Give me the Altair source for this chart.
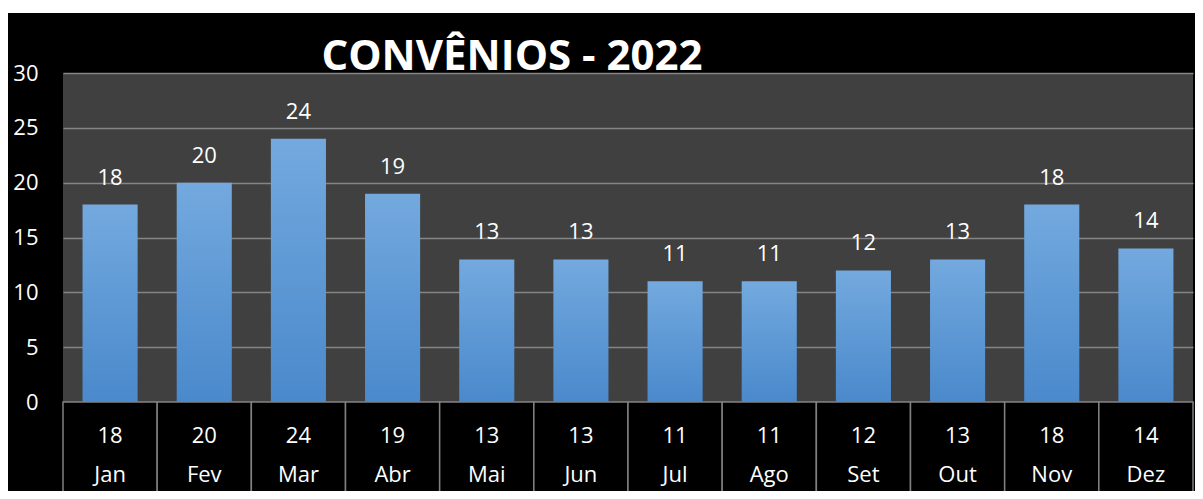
import altair as alt
import pandas as pd

months = ["Jan", "Fev", "Mar", "Abr", "Mai", "Jun", "Jul", "Ago", "Set", "Out", "Nov", "Dez"]
values = [18, 20, 24, 19, 13, 13, 11, 11, 12, 13, 18, 14]
y_ticks = [0, 5, 10, 15, 20, 25, 30]
title_text = "CONVÊNIOS - 2022"

df = pd.DataFrame({"mes": months, "valor": values})

W, H = 1130, 329
FONT = "Open Sans"

x_bar = alt.X(
    "mes:N", sort=months,
    scale=alt.Scale(paddingInner=0.415, paddingOuter=0.2075),
    axis=None,
)
y_enc = alt.Y(
    "valor:Q", scale=alt.Scale(domain=[0, 30], nice=False),
    axis=alt.Axis(title=None, values=y_ticks, domain=False, ticks=False,
                  labelColor="white", labelFont=FONT, labelFontSize=22,
                  labelPadding=25, labelBaseline="middle",
                  gridColor="#858585", gridWidth=1.5),
)

base = alt.Chart(df)

bars = base.mark_bar(
    color=alt.Gradient(
        gradient="linear",
        stops=[alt.GradientStop(color="#73a9de", offset=0),
               alt.GradientStop(color="#4a89cc", offset=1)],
        x1=0, x2=0, y1=0, y2=1,
    )
).encode(x=x_bar, y=y_enc)

labels = base.mark_text(
    color="white", font=FONT, fontSize=22, dy=-27, baseline="middle"
).encode(x=x_bar, y="valor:Q", text="valor:Q")

plot_layer = alt.layer(bars, labels)

x_tab = alt.X("mes:N", sort=months,
              scale=alt.Scale(paddingInner=0, paddingOuter=0), axis=None)

cells = base.mark_rect(fill="black", stroke="#808080", strokeWidth=1.5).encode(
    x=x_tab, y=alt.value(H), y2=alt.value(H + 140)
)

table_vals = base.mark_text(
    color="white", font=FONT, fontSize=22, baseline="middle"
).encode(x=x_tab, y=alt.value(H + 34), text="valor:Q")

table_months = base.mark_text(
    color="white", font=FONT, fontSize=22, baseline="middle"
).encode(x=x_tab, y=alt.value(H + 73), text="mes:N")

table_layer = alt.layer(cells, table_vals, table_months)

top_strip = alt.Chart(alt.Data(values=[{}])).mark_rect(color="white").encode(
    x=alt.value(-60), x2=alt.value(W + 10), y=alt.value(-70), y2=alt.value(-60)
)

title = alt.Chart(alt.Data(values=[{"t": title_text}])).mark_text(
    color="white", font=FONT, fontSize=42, fontWeight="bold",
    align="center", baseline="alphabetic"
).encode(x=alt.value(449), y=alt.value(-3), text="t:N")

chart = alt.layer(plot_layer, table_layer, top_strip, title).resolve_scale(
    x="independent"
).properties(
    width=W, height=H,
    autosize=alt.AutoSizeParams(type="none"),
    padding={"left": 55, "top": 65, "right": 2, "bottom": 89},
    background="black",
).configure_view(fill="#404040", stroke=None)

chart.save("out.html", embed_options={"renderer": "svg", "actions": False})
